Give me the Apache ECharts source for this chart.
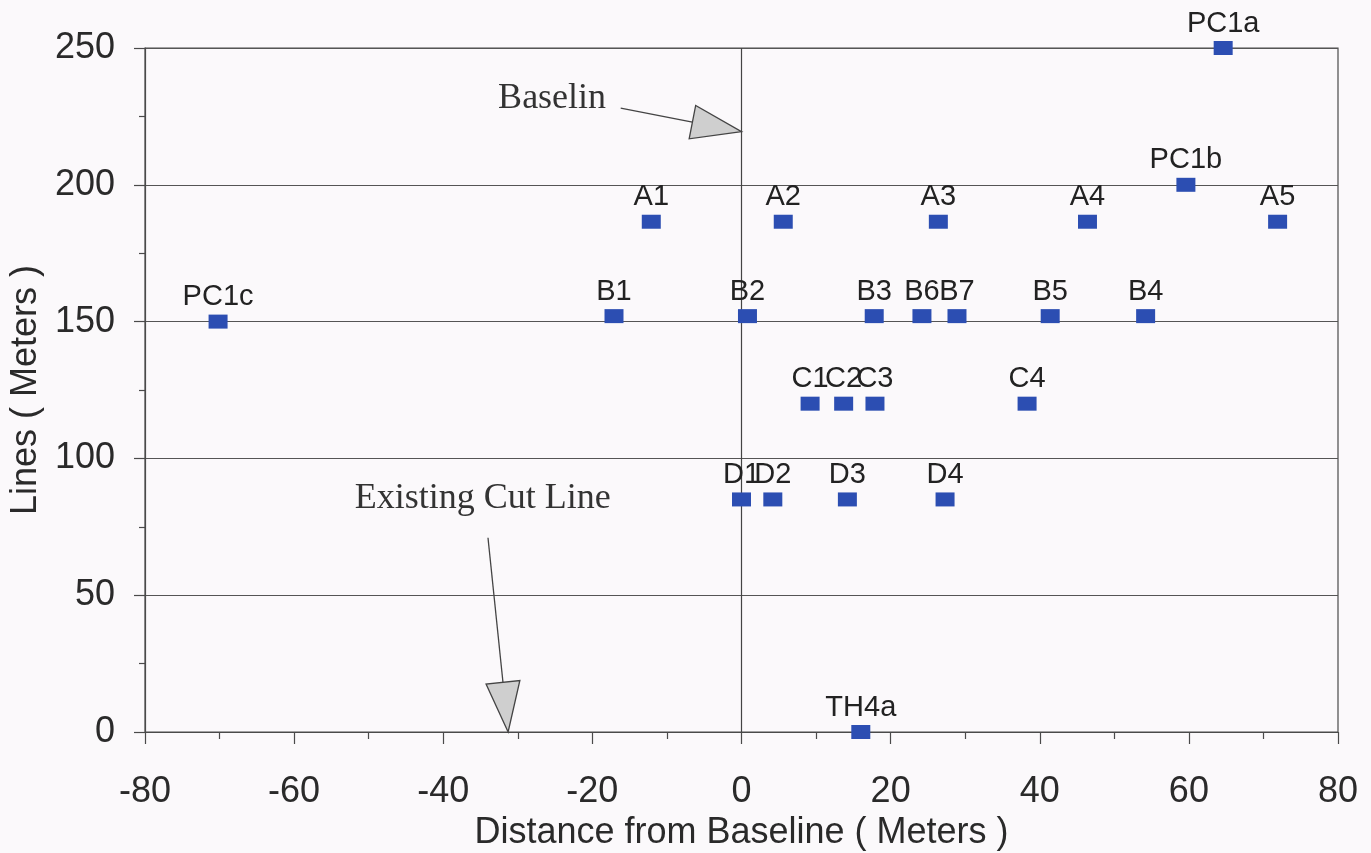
<!DOCTYPE html>
<html><head><meta charset="utf-8">
<script src="https://cdn.jsdelivr.net/npm/echarts@6/dist/echarts.min.js"></script>
<style>html,body{margin:0;padding:0;background:#fbf9fb;} #c{width:1371px;height:853px;}</style>
</head><body><div id="c"></div>
<script>
// ---- data ----
const pointNames = ['PC1a','PC1b','A1','A2','A3','A4','A5','PC1c','B1','B2','B3','B6','B7','B5','B4','C1','C2','C3','C4','D1','D2','D3','D4','TH4a'];
const xValues = [64.6, 59.6, -12.1, 5.6, 26.4, 46.4, 71.9, -70.2, -17.1, 0.8, 17.8, 24.2, 28.9, 41.4, 54.2, 9.2, 13.7, 17.9, 38.3, 0, 4.2, 14.2, 27.3, 16.0];
const yValues = [250, 200, 186.5, 186.5, 186.5, 186.5, 186.5, 150, 152, 152, 152, 152, 152, 152, 152, 120, 120, 120, 120, 85, 85, 85, 85, 0];
const xTickValues = [-80, -60, -40, -20, 0, 20, 40, 60, 80];
const yTickValues = [0, 50, 100, 150, 200, 250];
const xTitle = 'Distance from Baseline ( Meters )';
const yTitle = 'Lines ( Meters )';
const baselineX = 0;
// annotations (data coordinates)
const annotationTexts = ['Baselin', 'Existing Cut Line'];
const annotationTextPos = [[-25.4, 231.7], [-34.7, 85.2]];
const arrowTails = [[-16.2, 228], [-34.0, 71]];
const arrowTips = [[0, 219.4], [-31.3, 0]];

const chart = echarts.init(document.getElementById('c'), null, {renderer: 'canvas'});
const axisColor = '#4a4a4a';
const option = {
  backgroundColor: '#fbf9fb',
  animation: false,
  grid: {left: 145, right: 33, top: 48, bottom: 121, containLabel: false, outerBoundsMode: 'none',
    show: true, borderColor: axisColor, borderWidth: 1.2},
  xAxis: {
    type: 'value', min: xTickValues[0], max: xTickValues[xTickValues.length - 1], interval: 20,
    name: xTitle, nameLocation: 'middle', nameGap: 82,
    nameTextStyle: {fontFamily: 'Liberation Sans', fontSize: 36, color: '#2a2a2a'},
    axisLine: {onZero: false, lineStyle: {color: axisColor, width: 1.2}},
    axisTick: {show: true, length: 12, lineStyle: {color: axisColor, width: 1.2}},
    minorTick: {show: true, splitNumber: 2, length: 7, lineStyle: {color: axisColor, width: 1.2}},
    axisLabel: {fontFamily: 'Liberation Sans', fontSize: 36, color: '#2a2a2a', margin: 42},
    splitLine: {show: false}
  },
  yAxis: {
    type: 'value', min: yTickValues[0], max: yTickValues[yTickValues.length - 1], interval: 50,
    name: yTitle, nameLocation: 'middle', nameGap: 100,
    nameTextStyle: {fontFamily: 'Liberation Sans', fontSize: 36, color: '#2a2a2a'},
    axisLine: {show: true, onZero: false, lineStyle: {color: axisColor, width: 1.2}},
    axisTick: {show: true, length: 11, lineStyle: {color: axisColor, width: 1.2}},
    minorTick: {show: true, splitNumber: 2, length: 6, lineStyle: {color: axisColor, width: 1.2}},
    axisLabel: {fontFamily: 'Liberation Sans', fontSize: 36, color: '#2a2a2a', margin: 30},
    splitLine: {show: true, lineStyle: {color: '#555', width: 1.2}}
  },
  series: [{
    type: 'scatter',
    symbol: 'rect',
    symbolSize: [19, 14],
    itemStyle: {color: '#2c4eb2', opacity: 1},
    data: pointNames.map((n, i) => ({name: n, value: [xValues[i], yValues[i]]})),
    label: {show: true, position: 'top', distance: 3, formatter: p => p.name,
      fontFamily: 'Liberation Sans', fontSize: 29, color: '#222'},
    labelLayout: {hideOverlap: false},
    emphasis: {disabled: true},
    markLine: {
      silent: true, symbol: ['none', 'none'], label: {show: false},
      lineStyle: {color: '#444', width: 1.2, type: 'solid'},
      data: [{xAxis: baselineX}]
    },
    z: 5
  }]
};
chart.setOption(option);

function drawAnnotations() {
  const g = [];
  annotationTexts.forEach((t, i) => {
    const p = chart.convertToPixel({gridIndex: 0}, annotationTextPos[i]);
    g.push({type: 'text', x: p[0], y: p[1], z: 10,
      style: {text: t, fontFamily: 'Liberation Serif', fontSize: 36, fill: '#333', align: 'center', verticalAlign: 'middle'}});
    const a = chart.convertToPixel({gridIndex: 0}, arrowTails[i]);
    const b = chart.convertToPixel({gridIndex: 0}, arrowTips[i]);
    const dx = b[0] - a[0], dy = b[1] - a[1];
    const len = Math.sqrt(dx * dx + dy * dy);
    const ux = dx / len, uy = dy / len;
    const headLen = 50, headW = 34;
    const bc = [b[0] - ux * headLen, b[1] - uy * headLen];
    const px = -uy, py = ux;
    g.push({type: 'line', z: 10, shape: {x1: a[0], y1: a[1], x2: bc[0], y2: bc[1]},
      style: {stroke: '#444', lineWidth: 1.3}});
    g.push({type: 'polygon', z: 10, shape: {points: [
      [b[0], b[1]],
      [bc[0] + px * headW / 2, bc[1] + py * headW / 2],
      [bc[0] - px * headW / 2, bc[1] - py * headW / 2]
    ]}, style: {fill: '#cfcfcf', stroke: '#444', lineWidth: 1.3}});
  });
  chart.setOption({graphic: g});
}
drawAnnotations();
</script>
</body></html>
